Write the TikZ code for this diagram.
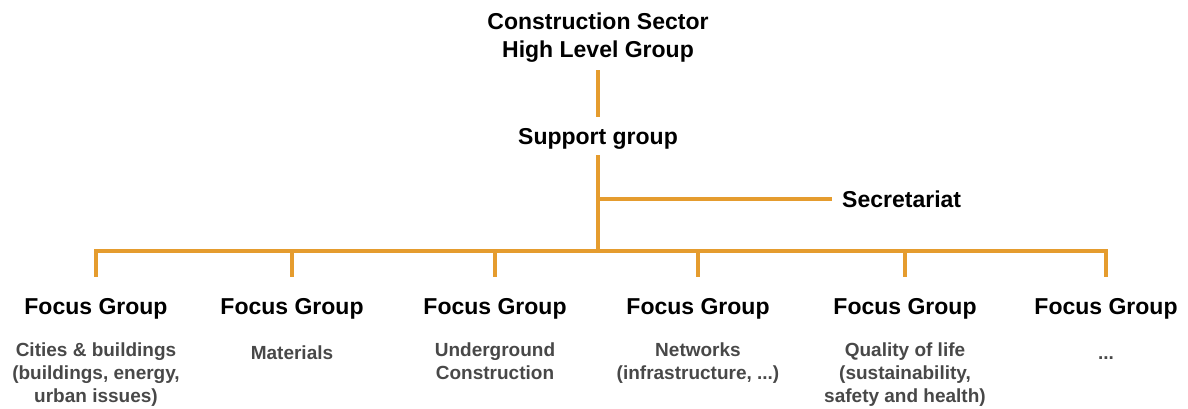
\documentclass[tikz,border=0pt]{standalone}
\usepackage{fontspec}
\setmainfont{Liberation Sans}
\definecolor{orgline}{RGB}{229,156,46}
\definecolor{descgrey}{RGB}{72,72,72}
\begin{document}
\begin{tikzpicture}[x=1pt, y=-1pt, line cap=rect, line join=miter,
	conn/.style={draw=orgline, line width=4pt},
	head/.style={font=\fontsize{23}{28}\selectfont\bfseries, align=center, inner sep=0pt},
	desc/.style={font=\fontsize{19}{22.8}\selectfont\bfseries, text=descgrey, align=center,
		inner sep=0pt, anchor=north, execute at begin node=\strut}]
			\useasboundingbox (0,0) rectangle (1188,408);
			\node[head] (hlg) at (598,38) {Construction Sector\\High Level Group};
			\node[head] (sup) at (598,139) {Support group};
			\node[head, anchor=west] (sec) at (842,199) {Secretariat};
			\path (598,199) coordinate (secj)
			(598,251) coordinate (bar);
			\draw[conn, shorten <=9pt, shorten >=13pt] (hlg.south)--(sup.north);
			\draw[conn, shorten <=7pt] (sup.south)--(bar);
			\draw[conn, shorten >=12pt] (secj)--(sec.west);
			\foreach \x/\txt [count=\i] in {96/{Cities \& buildings\\(buildings, energy,\\urban issues)},
				292/{Materials}, 495/{Underground\\Construction}, 698/{Networks\\(infrastructure, ...)},
				905/{Quality of life\\(sustainability,\\safety and health)}, 1106/{...}}{
				\node[head] (fg\i) at (\x,309) {Focus Group};
				\node[desc] (d\i) at (\x,343) {\txt};
				\path (\x,251) coordinate (b\i);
				\draw[conn, shorten >=23pt] (b\i)--(fg\i.north);}
			\draw[conn] (b1)--(b6);
\end{tikzpicture}
\end{document}
